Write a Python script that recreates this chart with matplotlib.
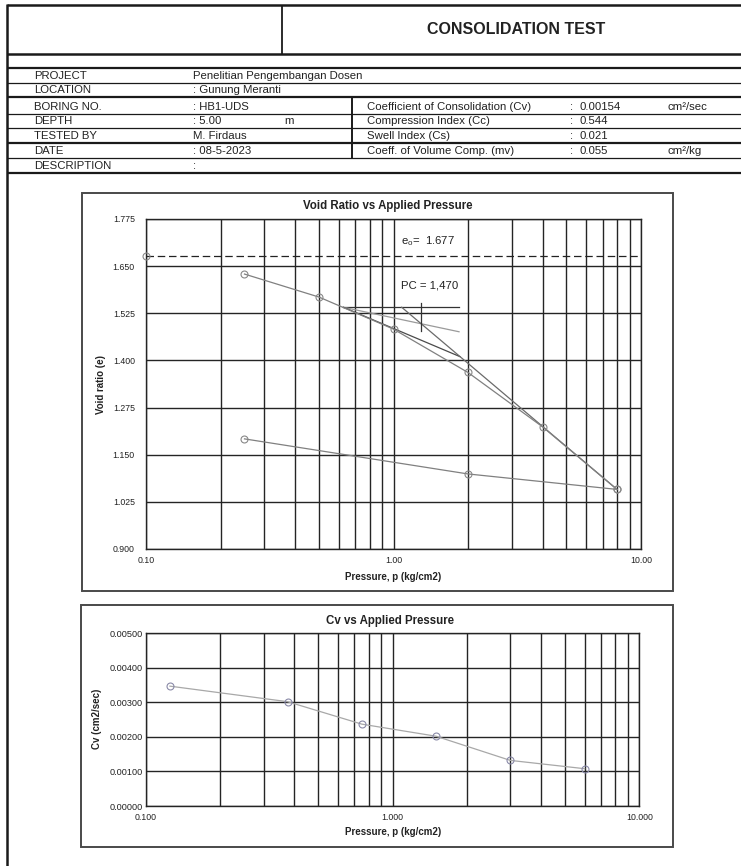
import numpy as np
import matplotlib
matplotlib.use("Agg")
import matplotlib.pyplot as plt
from matplotlib.ticker import FixedLocator, NullFormatter
from matplotlib.patches import Rectangle

plt.rcParams['font.family'] = ['Liberation Sans', 'DejaVu Sans']
plt.rcParams['mathtext.fontset'] = 'custom'
plt.rcParams['mathtext.rm'] = 'Liberation Sans'
plt.rcParams['mathtext.it'] = 'Liberation Sans'

W, H, DPI = 741, 866, 100

# ---- report header data ----
report_title = "CONSOLIDATION TEST"
field_names = ["PROJECT", "LOCATION", "BORING NO.", "DEPTH", "TESTED BY", "DATE", "DESCRIPTION"]
field_values = ["Penelitian Pengembangan Dosen", ": Gunung Meranti", ": HB1-UDS", ": 5.00",
                "M. Firdaus", ": 08-5-2023", ":"]
depth_unit = "m"
param_names = ["Coefficient of Consolidation (Cv)", "Compression Index (Cc)",
               "Swell Index (Cs)", "Coeff. of Volume Comp. (mv)"]
param_values = ["0.00154", "0.544", "0.021", "0.055"]
param_units = ["cm\u00b2/sec", "", "", "cm\u00b2/kg"]

# ---- void ratio vs pressure ----
e0 = 1.677
p_initial = 0.10
load_p = [0.25, 0.5, 1.0, 2.0, 4.0, 8.0]
load_e = [1.629, 1.568, 1.483, 1.368, 1.224, 1.058]
unload_p = [8.0, 2.0, 0.25]
unload_e = [1.058, 1.099, 1.192]

# Casagrande construction (point of max curvature and line end points)
curv_p, curv_e = 0.627, 1.541
horizontal_end_p = 1.84
bisector_end_p, bisector_end_e = 1.84, 1.476
tangent_end_p, tangent_end_e = 1.857, 1.410
virgin_p = [1.079, 8.0]
virgin_e = [1.541, 1.058]
pc_tick_e = [1.479, 1.553]
pc_label = "PC = 1,470"

e_ticks = [0.900, 1.025, 1.150, 1.275, 1.400, 1.525, 1.650, 1.775]
p_major = [0.1, 1.0, 10.0]
p_major_labels_e = ["0.10", "1.00", "10.00"]
p_major_labels_cv = ["0.100", "1.000", "10.000"]
p_minor = [0.2, 0.3, 0.4, 0.5, 0.6, 0.7, 0.8, 0.9, 2, 3, 4, 5, 6, 7, 8, 9]

# ---- Cv vs pressure ----
cv_p = [0.125, 0.375, 0.75, 1.5, 3.0, 6.0]
cv_vals = [0.00347, 0.00302, 0.00237, 0.00202, 0.00132, 0.00108]
cv_ticks = [0.0, 0.001, 0.002, 0.003, 0.004, 0.005]

GRID = '#242424'
FS = 8.2


def rect(l, t, r, b):
    return [l / W, 1 - b / H, (r - l) / W, (b - t) / H]


fig = plt.figure(figsize=(W / DPI, H / DPI), dpi=DPI)
fig.patch.set_facecolor('white')

# Page overlay in pixel coordinates for the form lines and text
bg = fig.add_axes([0, 0, 1, 1], zorder=0)
bg.set_xlim(0, W)
bg.set_ylim(H, 0)
bg.axis('off')


def hline(y, x0=7, x1=W, lw=1.0):
    bg.plot([x0, x1], [y, y], color='#1a1a1a', lw=lw, solid_capstyle='butt')


def vline(x, y0, y1, lw=1.0):
    bg.plot([x, x], [y0, y1], color='#1a1a1a', lw=lw, solid_capstyle='butt')


# outer border and title block
hline(5, lw=1.8)
vline(7.3, 4, H, lw=1.8)
vline(282, 5, 54, lw=1.3)
hline(54, lw=1.8)
hline(68.3, lw=1.6)
hline(83, lw=0.9)
hline(97.3, lw=1.6)
hline(114.2, lw=0.9)
hline(128.2, lw=0.9)
hline(142.6, lw=1.6)
hline(158.2, lw=0.9)
hline(173, lw=1.6)
vline(351.7, 97.3, 158.2, lw=1.4)

bg.text(516, 30, report_title, ha='center', va='center', fontsize=11.5,
        fontweight='bold', color='#222')

row_y = [76.2, 90.3, 106.5, 121.3, 135.6, 151.0, 165.8]
for y, name, val in zip(row_y, field_names, field_values):
    bg.text(34.3, y, name, ha='left', va='center', fontsize=FS, color='#222')
    bg.text(193.3, y, val, ha='left', va='center', fontsize=FS, color='#222')
bg.text(284, row_y[3], depth_unit, ha='left', va='center', fontsize=FS, color='#222')

prm_y = [106.5, 121.3, 135.6, 151.0]
for y, name, val, unit in zip(prm_y, param_names, param_values, param_units):
    bg.text(367, y, name, ha='left', va='center', fontsize=FS, color='#222')
    bg.text(570, y, ":", ha='left', va='center', fontsize=FS, color='#222')
    bg.text(580, y, val, ha='left', va='center', fontsize=FS, color='#222')
    if unit:
        bg.text(668, y, unit, ha='left', va='center', fontsize=FS, color='#222')

# chart frames
bg.add_patch(Rectangle((81.7, 193.3), 673 - 81.7, 591 - 193.3, fill=False,
                       ec='#4a4a4a', lw=1.4))
bg.add_patch(Rectangle((80.7, 605), 673 - 80.7, 846.7 - 605, fill=False,
                       ec='#4a4a4a', lw=1.4))

# chart titles and axis labels
bg.text(388, 205.7, "Void Ratio vs Applied Pressure", ha='center', va='center',
        fontsize=8.3, fontweight='bold', color='#222')
bg.text(393, 576.7, "Pressure, p (kg/cm2)", ha='center', va='center',
        fontsize=7, fontweight='bold', color='#222')
bg.text(100.7, 384, "Void ratio (e)", ha='center', va='center', rotation=90,
        fontsize=7, fontweight='bold', color='#222')

bg.text(390, 620.7, "Cv vs Applied Pressure", ha='center', va='center',
        fontsize=8.3, fontweight='bold', color='#222')
bg.text(393, 831.7, "Pressure, p (kg/cm2)", ha='center', va='center',
        fontsize=7, fontweight='bold', color='#222')
bg.text(96.7, 719, "Cv (cm2/sec)", ha='center', va='center', rotation=90,
        fontsize=7, fontweight='bold', color='#222')


def style_log_axes(ax, labels, ypad, ysize):
    ax.set_xscale('log')
    ax.set_xlim(0.1, 10)
    ax.set_xticks(p_major, labels=labels)
    ax.xaxis.set_minor_locator(FixedLocator(p_minor))
    ax.xaxis.set_minor_formatter(NullFormatter())
    ax.grid(which='both', axis='x', color=GRID, lw=1.0)
    ax.grid(which='major', axis='y', color=GRID, lw=1.0)
    ax.tick_params(which='both', length=0, labelsize=6.3, colors='#222')
    ax.tick_params(axis='x', pad=5)
    ax.tick_params(axis='y', pad=ypad, labelsize=ysize)
    for s in ax.spines.values():
        s.set_color(GRID)
        s.set_linewidth(1.0)
    ax.set_axisbelow(True)


# ---- void ratio chart ----
ax1 = fig.add_axes(rect(146, 219, 641, 549), zorder=2)
style_log_axes(ax1, p_major_labels_e, 8, 6.3)
ax1.set_ylim(e_ticks[0], e_ticks[-1])
ax1.set_yticks(e_ticks, labels=[f"{v:.3f}" for v in e_ticks])

ax1.axhline(e0, color='#222', lw=0.9, ls=(0, (6, 3)))
ax1.plot([p_initial], [e0], marker='o', ms=5, mfc='none', mec='#888',
         mew=0.8, clip_on=False, zorder=5)
ax1.plot(load_p, load_e, color='#808080', lw=0.9, marker='o', ms=5,
         mfc='none', mec='#888', mew=0.8, zorder=4)
ax1.plot(unload_p, unload_e, color='#808080', lw=0.9, marker='o', ms=5,
         mfc='none', mec='#888', mew=0.8, zorder=4)

# construction lines
ax1.plot([curv_p, horizontal_end_p], [curv_e, curv_e], color='#333', lw=0.9)
ax1.plot([curv_p, bisector_end_p], [curv_e, bisector_end_e], color='#9a9a9a', lw=0.9)
ax1.plot([curv_p, tangent_end_p], [curv_e, tangent_end_e], color='#4a4a4a', lw=0.9)
ax1.plot(virgin_p, virgin_e, color='#6a6a6a', lw=0.9)

# preconsolidation point: bisector meets the extended virgin line
lx = np.log10([curv_p, bisector_end_p])
m_b = (bisector_end_e - curv_e) / (lx[1] - lx[0])
vx = np.log10(virgin_p)
m_v = (virgin_e[1] - virgin_e[0]) / (vx[1] - vx[0])
x_pc = (virgin_e[0] - m_v * vx[0] - curv_e + m_b * lx[0]) / (m_b - m_v)
p_pc = 10 ** x_pc
ax1.plot([p_pc, p_pc], pc_tick_e, color='#333', lw=0.9)

ax1.text(1.07, 1.7155, r"e$_\mathrm{o}$=  " + f"{e0:.3f}", ha='left', va='center',
         fontsize=8.2, color='#222')
ax1.text(1.07, 1.5975, pc_label, ha='left', va='center', fontsize=8.2, color='#222')

# ---- Cv chart ----
ax2 = fig.add_axes(rect(146, 633.3, 639.3, 806), zorder=2)
style_log_axes(ax2, p_major_labels_cv, 2, 6.6)
ax2.set_ylim(cv_ticks[0], cv_ticks[-1])
ax2.set_yticks(cv_ticks, labels=[f"{v:.5f}" for v in cv_ticks])
ax2.plot(cv_p, cv_vals, color='#a8a8a8', lw=0.9, marker='o', ms=5,
         mfc='none', mec='#8a8aa8', mew=0.8, zorder=4)

fig.savefig("out.png", dpi=DPI, facecolor='white')
